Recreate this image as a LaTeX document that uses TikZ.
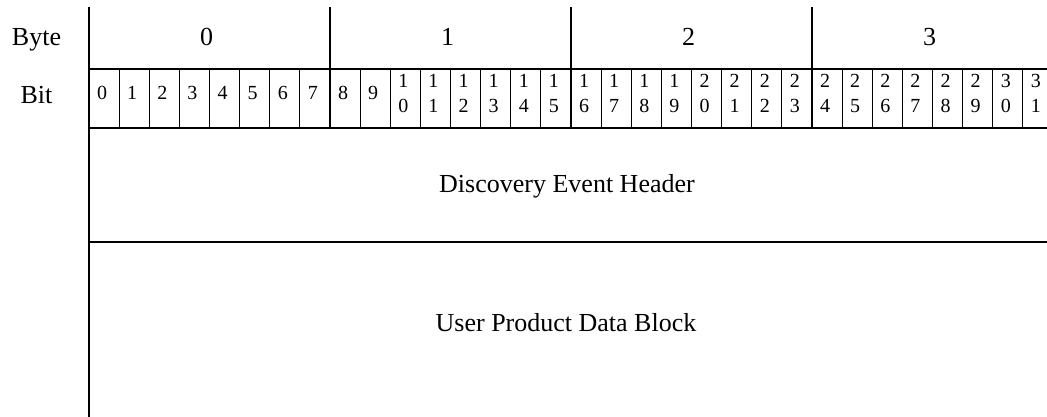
\documentclass[tikz,border=0pt]{standalone}
\usepackage{fontspec}
\setmainfont{Liberation Serif}
\begin{document}
\begin{tikzpicture}[x=1pt,y=-1pt,
  thickline/.style={line width=2pt,line cap=rect},
  thinline/.style={line width=0.9pt},
  biglabel/.style={font=\fontsize{26}{31}\selectfont,inner sep=0pt,anchor=base},
  bitlabel/.style={font=\fontsize{20}{25}\selectfont,inner sep=0pt,anchor=base}]
\useasboundingbox (0,0) rectangle (1047,417);
% thin bit dividers
\foreach \k in {1,...,31}{
  \pgfmathtruncatemacro{\m}{mod(\k,8)}
  \ifnum\m=0\else
    \draw[thinline] ({89+\k*30.125},69) -- ({89+\k*30.125},128.5);
  \fi
}
% thick byte dividers
\foreach \k in {1,2,3}{
  \draw[thickline] ({89+\k*241},8) -- ({89+\k*241},128.5);
}
% left line and horizontals
\draw[thickline] (89,8) -- (89,418);
\draw[thickline] (89,69) -- (1050,69);
\draw[thickline] (89,128.5) -- (1050,128.5);
\draw[thickline] (89,241.7) -- (1050,241.7);
% row labels
\node[biglabel] (byte) at (36.5,45.3) {Byte};
\node[biglabel] (bit) at (36.5,104) {Bit};
% byte numbers
\foreach \k in {0,1,2,3}{
  \node[biglabel] (by\k) at ({89+(\k+0.5)*241-3},46) {\k};
}
% bit numbers
\foreach \i in {0,...,31}{
  \pgfmathsetmacro{\cx}{89+(\i+0.5)*30.125-2}
  \ifnum\i<10
    \node[bitlabel] (b\i) at (\cx,100) {\i};
  \else
    \pgfmathtruncatemacro{\tens}{int(\i/10)}
    \pgfmathtruncatemacro{\units}{mod(\i,10)}
    \node[bitlabel] (b\i) at (\cx,113) {\renewcommand{\arraystretch}{1}\begin{tabular}[b]{@{}c@{}}\tens\\\units\end{tabular}};
  \fi
}
% field labels
\node[biglabel] (hdr) at (567,192.7) {Discovery Event Header};
\node[biglabel] (upd) at (566,331.7) {User Product Data Block};
\end{tikzpicture}
\end{document}
